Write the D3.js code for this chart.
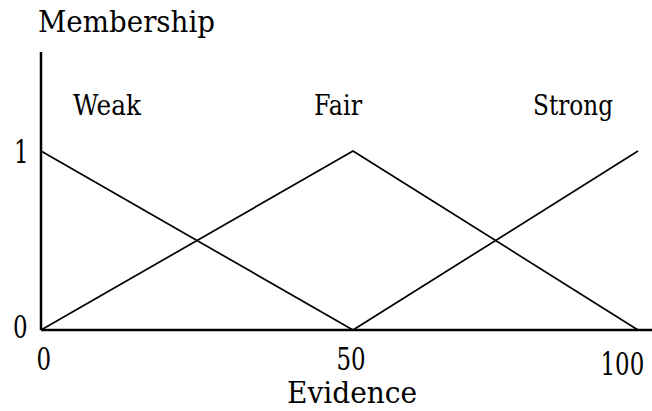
<!DOCTYPE html>
<html>
<head>
<meta charset="utf-8">
<script src="https://d3js.org/d3.v7.min.js"></script>
<style>
  html, body { margin: 0; padding: 0; background: #fff; }
  svg { display: block; }
  text { font-family: "DejaVu Serif", "Liberation Serif", serif; fill: #000; }
</style>
</head>
<body>
<svg id="drawing_region"></svg>
<script>
// membership functions: (evidence, membership) corner points
const categories = ["Weak", "Fair", "Strong"];
const weakPoints   = [[0, 1], [50, 0]];
const fairPoints   = [[0, 0], [50, 1], [100, 0]];
const strongPoints = [[50, 0], [100, 1]];
const xTicks = [0, 50, 100];
const yTicks = [0, 1];

const width = 652, height = 411;
const serif = '"DejaVu Serif", serif';
const digitSquash = 0.74; // the original digits are tall and narrow

const svg = d3.select('#drawing_region')
    .attr('width', width)
    .attr('height', height);

// the original is not quite linear between 0-50 and 50-100
const xscale = d3.scaleLinear()
    .domain([0, 50, 100, 102.3])
    .range([41, 353, 638, 652]);

const yscale = d3.scaleLinear()
    .domain([0, 1])
    .range([330, 151]);

// curves
const line = d3.line()
    .x(d => xscale(d[0]))
    .y(d => yscale(d[1]));

[weakPoints, fairPoints, strongPoints].forEach(pts => {
    svg.append('path')
        .datum(pts)
        .attr('d', line)
        .attr('fill', 'none')
        .attr('stroke', '#000')
        .attr('stroke-width', 1.7);
});

// axes
const xaxis = d3.axisBottom(xscale)
    .tickValues(xTicks)
    .tickSize(0)
    .tickPadding(0)
    .tickFormat(d3.format('d'));

const xaxis_group = svg.append('g')
    .attr('transform', `translate(0, ${yscale(0)})`)
    .call(xaxis);
xaxis_group.select('.domain')
    .attr('d', `M${xscale(0)},0H${width}`)
    .attr('stroke-width', 2.5);
const xTickShift = [-5, -17, -38];
xaxis_group.selectAll('.tick text')
    .attr('font-size', '31px')
    .attr('font-family', serif)
    .attr('text-anchor', 'start')
    .attr('x', 0)
    .attr('y', 0)
    .attr('dy', 0)
    .attr('transform', (d, i) =>
        `translate(${xTickShift[i]}, ${i === 2 ? 45 : 40}) scale(${digitSquash}, 1)`);

const yaxis = d3.axisLeft(yscale)
    .tickValues(yTicks)
    .tickSize(0)
    .tickPadding(0)
    .tickFormat(d3.format('d'));

const yaxis_group = svg.append('g')
    .attr('transform', `translate(${xscale(0)}, 0)`)
    .call(yaxis);
yaxis_group.select('.domain')
    .attr('d', `M0,52V${yscale(0)}`)
    .attr('stroke-width', 2.5);
yaxis_group.selectAll('.tick text')
    .attr('font-size', '31px')
    .attr('font-family', serif)
    .attr('text-anchor', 'start')
    .attr('x', 0)
    .attr('y', 0)
    .attr('dy', 0)
    .attr('transform', (d, i) =>
        `translate(${i === 0 ? -28 : -27}, ${i === 0 ? 7 : 11}) scale(${digitSquash}, 1)`);

// axis titles
svg.append('text')
    .attr('x', 38)
    .attr('y', 32)
    .attr('font-size', '29px')
    .attr('lengthAdjust', 'spacingAndGlyphs')
    .attr('textLength', 177)
    .text('Membership');

svg.append('text')
    .attr('x', 287)
    .attr('y', 403)
    .attr('font-size', '29px')
    .attr('lengthAdjust', 'spacingAndGlyphs')
    .attr('textLength', 130)
    .text('Evidence');

// category labels
const labelLeft = [73, 314, 533];
const labelWidth = [68, 48, 80];
svg.selectAll('.cat')
    .data(categories)
    .enter()
    .append('text')
    .attr('class', 'cat')
    .attr('x', (d, i) => labelLeft[i])
    .attr('y', 115)
    .attr('font-size', '27px')
    .attr('lengthAdjust', 'spacingAndGlyphs')
    .attr('textLength', (d, i) => labelWidth[i])
    .text(d => d);
</script>
</body>
</html>
